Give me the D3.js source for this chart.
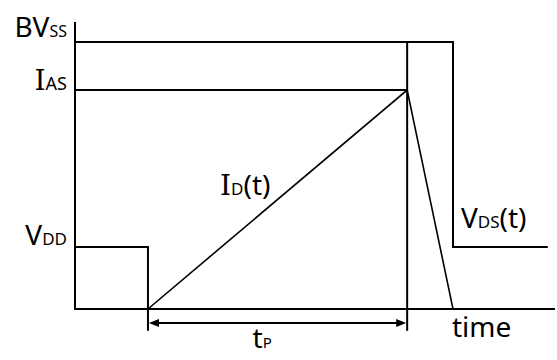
<!DOCTYPE html>
<html lang="en">
<head>
    <meta charset="UTF-8">
    <title>Avalanche waveform</title>
    <style>
        body {
            margin: 0;
            padding: 0;
            background: #fff;
        }
        svg text {
            font-family: "Noto Sans", "DejaVu Sans", sans-serif;
            fill: #000;
        }
    </style>
</head>
<body>
    <div id="chart"></div>

    <script src="https://d3js.org/d3.v7.min.js"></script>
    <script>
        // levels on the vertical axis (arbitrary units, 0..100)
        var levelNames = ["VDD", "IAS", "BVSS"];
        var levelValues = [21.6, 76.3, 93.0];

        // key instants on the time axis (0..100): start of tp, end of tp, current reaches 0, end of VDS trace
        var eventNames = ["tStart", "tPeak", "tFall", "tEnd"];
        var eventTimes = [15.2, 69.2, 78.75, 98.5];

        // V_DS(t) trace
        var vdsTime = [0, 15.2, 15.2, 69.2, 69.2, 78.75, 78.75, 98.5];
        var vdsValue = [21.6, 21.6, 0, 0, 93.0, 93.0, 21.6, 21.6];

        // I_D(t) trace
        var idTime = [15.2, 69.2, 78.75];
        var idValue = [0, 76.3, 0];

        // below-axis marks for tp
        var tpArrowLevel = -4.9;
        var tpTickBottom = -7.6;

        var svgWidth = 557, svgHeight = 360;

        var svg = d3.select("#chart")
            .append("svg")
            .attr("width", svgWidth)
            .attr("height", svgHeight);

        var x = d3.scaleLinear().domain([0, 100]).range([75, 555]);
        var y = d3.scaleLinear().domain([0, 100]).range([309, 22]);

        var lvl = function(name) { return levelValues[levelNames.indexOf(name)]; };
        var ev = function(name) { return eventTimes[eventNames.indexOf(name)]; };

        var line = d3.line()
            .x(d => x(d[0]))
            .y(d => y(d[1]));

        function drawPath(points, width) {
            svg.append("path")
                .attr("d", line(points))
                .attr("fill", "none")
                .attr("stroke", "#000")
                .attr("stroke-width", width)
                .attr("stroke-linejoin", "miter");
        }

        // axes
        drawPath([[0, 100], [0, 0], [100, 0]], 2);

        // reference levels
        drawPath([[0, lvl("BVSS")], [ev("tPeak"), lvl("BVSS")]], 2);
        drawPath([[0, lvl("IAS")], [ev("tPeak"), lvl("IAS")]], 2);

        // V_DS trace
        drawPath(vdsTime.map((t, i) => [t, vdsValue[i]]), 2);

        // I_D trace
        drawPath(idTime.map((t, i) => [t, idValue[i]]), 1.6);

        // tp ticks
        drawPath([[ev("tStart"), 0], [ev("tStart"), tpTickBottom]], 2);
        drawPath([[ev("tPeak"), 0], [ev("tPeak"), tpTickBottom]], 2);

        // tp double arrow
        var ay = y(tpArrowLevel);
        var x0 = x(ev("tStart")) + 1, x1 = x(ev("tPeak")) - 1;
        svg.append("line")
            .attr("x1", x0 + 6).attr("x2", x1 - 6)
            .attr("y1", ay).attr("y2", ay)
            .attr("stroke", "#000")
            .attr("stroke-width", 2);
        svg.append("path")
            .attr("d", "M" + x0 + "," + ay + "L" + (x0 + 10) + "," + (ay - 4) + "L" + (x0 + 10) + "," + (ay + 4) + "Z")
            .attr("fill", "#000");
        svg.append("path")
            .attr("d", "M" + x1 + "," + ay + "L" + (x1 - 10) + "," + (ay - 4) + "L" + (x1 - 10) + "," + (ay + 4) + "Z")
            .attr("fill", "#000");

        // labels
        function label(px, py, anchor, parts) {
            var t = svg.append("text")
                .attr("x", px)
                .attr("y", py)
                .attr("text-anchor", anchor);
            parts.forEach(function(p) {
                var s = t.append("tspan")
                    .attr("font-size", p.size + "px")
                    .text(p.text);
                if (p.serif) s.style("font-family", "'DejaVu Serif', serif");
            });
            return t;
        }

        label(x(0) - 8, y(lvl("BVSS")) - 5, "end", [
            { text: "BV", size: 28 },
            { text: "SS", size: 16 }
        ]);
        label(x(0) - 8, y(lvl("IAS")), "end", [
            { text: "I", size: 28, serif: true },
            { text: "AS", size: 18 }
        ]);
        label(x(0) - 8, y(lvl("VDD")) - 2, "end", [
            { text: "V", size: 28 },
            { text: "DD", size: 17 }
        ]);
        label(220, 195, "start", [
            { text: "I", size: 28, serif: true },
            { text: "D", size: 17 },
            { text: "(t)", size: 28 }
        ]);
        label(x(ev("tFall")) + 8, y(lvl("VDD")) - 19, "start", [
            { text: "V", size: 28 },
            { text: "DS", size: 17 },
            { text: "(t)", size: 28 }
        ]);
        label(x(ev("tFall")) - 1, y(0) + 28, "start", [
            { text: "time", size: 28 }
        ]);
        label(x((ev("tStart") + ev("tPeak")) / 2) - 25, y(0) + 39, "start", [
            { text: "t", size: 28 },
            { text: "P", size: 15 }
        ]);
    </script>
</body>
</html>
